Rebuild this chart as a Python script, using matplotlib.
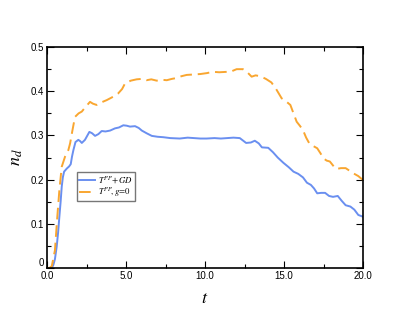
import matplotlib.pyplot as plt
from matplotlib.ticker import MultipleLocator

# T^PP + GD (blue, solid)
t_gd = [0.0, 0.3, 0.4, 0.5, 0.61, 0.7, 0.78, 0.86, 0.93, 1.0, 1.08, 1.25, 1.4, 1.5,
        1.58, 1.67, 1.8, 1.98, 2.1, 2.2, 2.4, 2.68, 2.85, 3.04, 3.25, 3.46, 3.7, 3.99,
        4.3, 4.55, 4.83, 5.05, 5.25, 5.57, 5.8, 6.0, 6.3, 6.63, 7.0, 7.36, 7.8, 8.4,
        8.9, 9.3, 9.7, 10.1, 10.6, 11.0, 11.4, 11.8, 12.2, 12.6, 12.9, 13.15, 13.4,
        13.6, 14.0, 14.3, 14.6, 14.96, 15.3, 15.6, 15.9, 16.2, 16.45, 16.7, 16.9,
        17.1, 17.35, 17.6, 17.85, 18.1, 18.4, 18.65, 18.9, 19.2, 19.45, 19.7, 20.0]
n_gd = [0.0, 0.0, 0.007, 0.02, 0.048, 0.08, 0.116, 0.15, 0.184, 0.205, 0.218, 0.225,
        0.23, 0.235, 0.252, 0.267, 0.285, 0.29, 0.287, 0.283, 0.29, 0.308, 0.305,
        0.299, 0.303, 0.31, 0.309, 0.311, 0.316, 0.318, 0.323, 0.322, 0.32, 0.321,
        0.317, 0.311, 0.305, 0.299, 0.297, 0.296, 0.294, 0.293, 0.295, 0.294, 0.293,
        0.293, 0.294, 0.293, 0.294, 0.295, 0.294, 0.283, 0.284, 0.288, 0.282, 0.273,
        0.272, 0.262, 0.25, 0.238, 0.228, 0.218, 0.213, 0.205, 0.193, 0.188, 0.18,
        0.169, 0.17, 0.17, 0.163, 0.161, 0.163, 0.152, 0.142, 0.139, 0.132, 0.12,
        0.116]

# T^PP, g=0 (orange, dashed)
t_g0 = [0.0, 0.15, 0.3, 0.5, 0.65, 0.78, 0.93, 1.14, 1.35, 1.46, 1.6, 1.77, 2.0, 2.2,
        2.45, 2.72, 2.9, 3.14, 3.45, 3.78, 4.1, 4.5, 4.75, 4.94, 5.3, 5.67, 6.0, 6.3,
        6.6, 6.94, 7.25, 7.58, 7.9, 8.2, 8.5, 8.84, 9.3, 9.7, 10.1, 10.5, 10.9, 11.4,
        11.6, 12.0, 12.4, 12.7, 12.95, 13.2, 13.5, 13.85, 14.2, 14.5, 14.85, 15.1,
        15.4, 15.6, 15.8, 16.0, 16.2, 16.4, 16.6, 16.85, 17.1, 17.3, 17.5, 17.7, 17.9,
        18.1, 18.3, 18.6, 18.9, 19.15, 19.4, 19.7, 20.0]
n_g0 = [0.0, 0.0, 0.004, 0.04, 0.116, 0.176, 0.229, 0.252, 0.267, 0.282, 0.31,
        0.342, 0.35, 0.354, 0.365, 0.376, 0.372, 0.369, 0.375, 0.38, 0.386, 0.395,
        0.405, 0.418, 0.424, 0.427, 0.428, 0.425, 0.427, 0.424, 0.426, 0.425, 0.428,
        0.43, 0.434, 0.437, 0.438, 0.439, 0.441, 0.444, 0.443, 0.444, 0.444, 0.45,
        0.45, 0.442, 0.433, 0.436, 0.434, 0.428, 0.42, 0.405, 0.384, 0.378, 0.369,
        0.35, 0.331, 0.322, 0.312, 0.295, 0.282, 0.276, 0.271, 0.26, 0.248, 0.243,
        0.241, 0.232, 0.224, 0.226, 0.226, 0.22, 0.214, 0.208, 0.199]

plt.rcParams['font.family'] = ['Liberation Sans', 'DejaVu Sans']
plt.rcParams['mathtext.fontset'] = 'stix'

fig = plt.figure(figsize=(4.09, 3.16), dpi=100)
ax = fig.add_axes([0.115, 0.152, 0.7726, 0.699])

ax.plot(t_gd, n_gd, color='#6a8ff0', lw=1.4, label=r'$T^{PP}\!+\!GD$')
ax.plot(t_g0, n_g0, color='#f9a630', lw=1.4, dashes=(6, 3), label=r'$T^{PP}\!,g\!=\!0$')

ax.set_xlim(0, 20)
ax.set_ylim(0, 0.5)
ax.xaxis.set_minor_locator(MultipleLocator(2.5))
ax.yaxis.set_minor_locator(MultipleLocator(0.05))
ax.set_xticks([0, 5, 10, 15, 20])
ax.set_xticklabels(['0.0', '5.0', '10.0', '15.0', '20.0'])
ax.set_yticks([0, 0.1, 0.2, 0.3, 0.4, 0.5])
ax.set_yticklabels(['0', '0.1', '0.2', '0.3', '0.4', '0.5'])
ax.tick_params(which='both', direction='in', top=True, right=True, labelsize=7, width=0.8)
ax.tick_params(which='major', length=5, pad=2)
ax.tick_params(which='minor', length=3)
# the "0" at the corner sits a bit higher than the x label "0.0"
ax.get_yticklabels()[0].set_verticalalignment('bottom')
for s in ax.spines.values():
    s.set_linewidth(1.2)

ax.set_xlabel(r'$t$', fontsize=13, labelpad=7)
ax.set_ylabel(r'$n_d$', fontsize=13, labelpad=4)

leg = ax.legend(loc='upper left', bbox_to_anchor=(0.095, 0.435), fontsize=6.3, frameon=True,
                fancybox=False, edgecolor='#555555', handlelength=1.8, borderpad=0.25,
                labelspacing=0.05, handletextpad=0.4, borderaxespad=0)
leg.get_frame().set_linewidth(1.0)

plt.savefig('out.png', dpi=100)
